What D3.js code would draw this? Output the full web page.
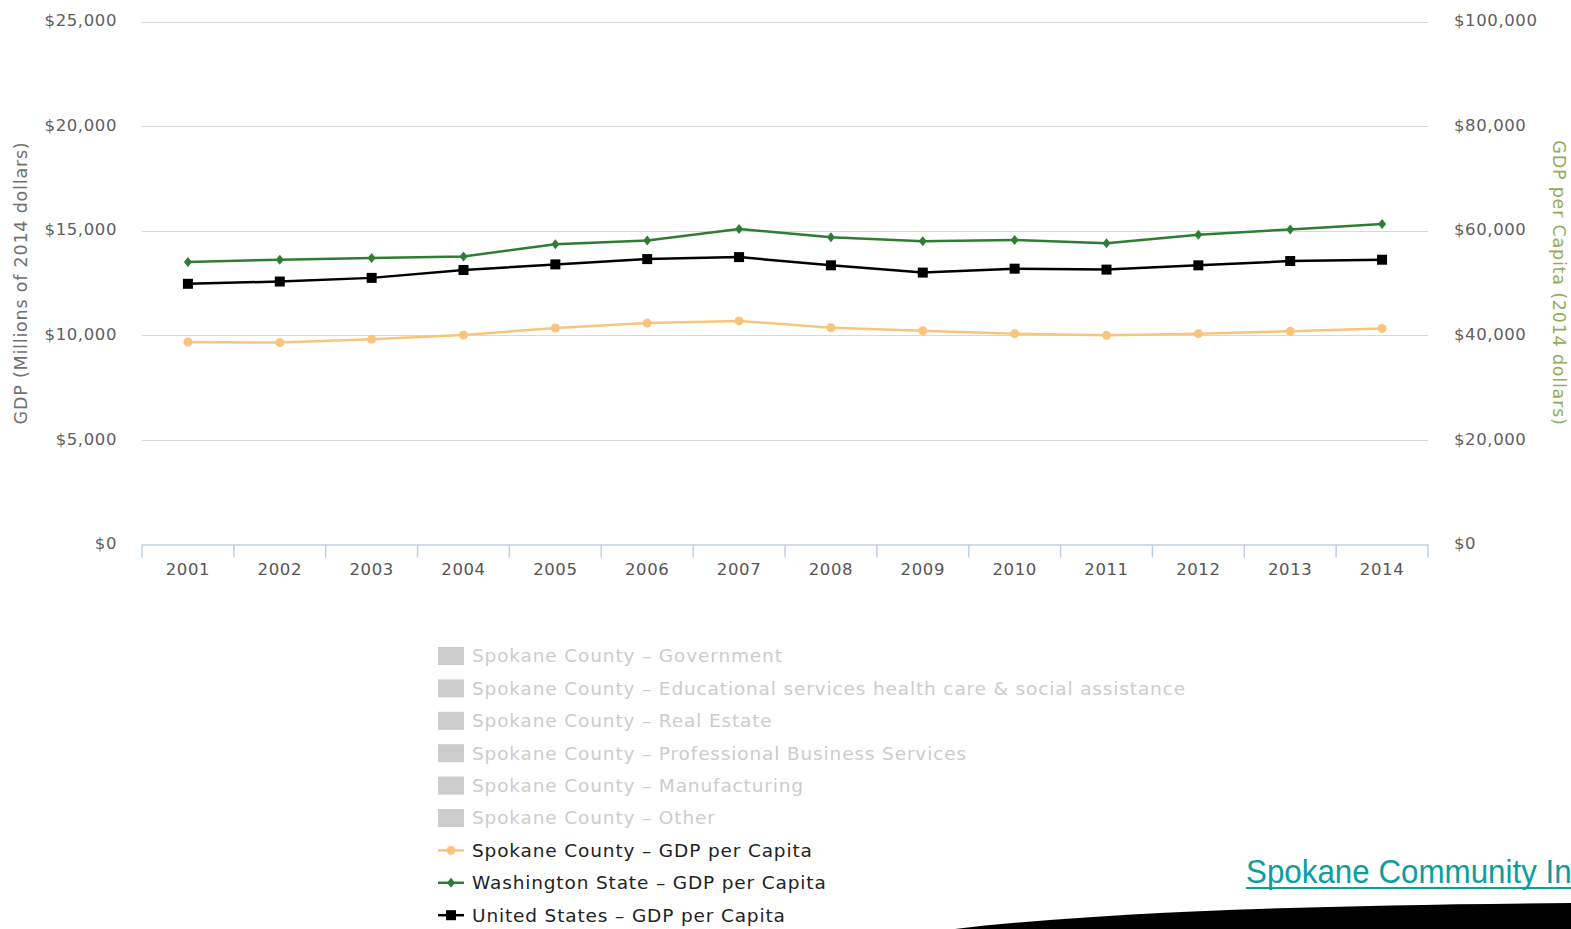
<!DOCTYPE html>
<html><head><meta charset="utf-8">
<script src="https://cdn.jsdelivr.net/npm/d3@7"></script>
<style>
html,body{margin:0;padding:0;background:#fff;overflow:hidden;}
svg{display:block;}
</style></head>
<body>
<svg id="chart" width="1571" height="929"></svg>
<script>
const years = ["2001","2002","2003","2004","2005","2006","2007","2008","2009","2010","2011","2012","2013","2014"];
const spokanePerCapita = [38720,38610,39240,40060,41390,42330,42750,41450,40880,40320,40000,40320,40760,41320];
const washingtonPerCapita = [54010,54450,54760,55080,57410,58110,60320,58740,57980,58230,57600,59240,60250,61260];
const usPerCapita = [49850,50280,50980,52490,53560,54570,54950,53380,51990,52740,52560,53380,54200,54450];
const leftTicks = [0,5000,10000,15000,20000,25000];
const rightTicks = [0,20000,40000,60000,80000,100000];
const hiddenLegend = [
  "Spokane County - Government",
  "Spokane County - Educational services health care & social assistance",
  "Spokane County - Real Estate",
  "Spokane County - Professional Business Services",
  "Spokane County - Manufacturing",
  "Spokane County - Other"
];
const lineSeries = [
  {name:"Spokane County - GDP per Capita", values: spokanePerCapita, color:"#f9c57c", marker:"circle"},
  {name:"Washington State - GDP per Capita", values: washingtonPerCapita, color:"#2f7d32", marker:"diamond"},
  {name:"United States - GDP per Capita", values: usPerCapita, color:"#000000", marker:"square"}
];

const svg = d3.select("#chart");
const FONT = "'DejaVu Sans', Verdana, sans-serif";
const plot = {left:142, right:1428, top:21.5, bottom:544.5};

const x = d3.scaleBand().domain(years).range([plot.left, plot.right]);
const yL = d3.scaleLinear().domain([0,25000]).range([plot.bottom, plot.top]);
const yR = d3.scaleLinear().domain([0,100000]).range([plot.bottom, plot.top]);
const fmt = d => "$" + d3.format(",")(d);

// gridlines
svg.append("g").selectAll("line").data(leftTicks.filter(d=>d>0)).join("line")
  .attr("x1", plot.left).attr("x2", plot.right)
  .attr("y1", d=>Math.round(yL(d))+0.5).attr("y2", d=>Math.round(yL(d))+0.5)
  .attr("stroke","#d8d8d8").attr("stroke-width",1.2);

// left axis
const gL = svg.append("g").attr("transform",`translate(${plot.left-22},0)`)
  .call(d3.axisLeft(yL).tickValues(leftTicks).tickFormat(fmt).tickSize(0));
gL.select(".domain").remove();
gL.selectAll("text").attr("font-family",FONT).attr("font-size",16.5).attr("fill","#606060")
  .attr("dy","0.25em").attr("letter-spacing","0.6px");

// right axis
const gR = svg.append("g").attr("transform",`translate(${plot.right+23},0)`)
  .call(d3.axisRight(yR).tickValues(rightTicks).tickFormat(fmt).tickSize(0));
gR.select(".domain").remove();
gR.selectAll("text").attr("font-family",FONT).attr("font-size",16.5).attr("fill","#606060")
  .attr("dy","0.25em").attr("letter-spacing","0.6px");

// x axis
const gX = svg.append("g").attr("transform",`translate(0,${plot.bottom})`)
  .call(d3.axisBottom(x).tickSize(0).tickPadding(19));
gX.select(".domain").attr("stroke","#c0d0e0").attr("stroke-width",1.5);
gX.selectAll("text").attr("font-family",FONT).attr("font-size",16.5).attr("fill","#555")
  .attr("letter-spacing","0.6px");
const bounds = years.map(y=>x(y)).concat([plot.right]);
gX.append("g").selectAll("line").data(bounds).join("line")
  .attr("x1",d=>d).attr("x2",d=>d).attr("y1",0).attr("y2",13)
  .attr("stroke","#c0d0e0").attr("stroke-width",1.5);

// axis titles
svg.append("text").attr("transform","translate(27,283) rotate(-90)")
  .attr("text-anchor","middle").attr("font-family",FONT).attr("font-size",17.5)
  .attr("letter-spacing","0.8px")
  .attr("fill","#707070").text("GDP (Millions of 2014 dollars)");
svg.append("text").attr("transform","translate(1553,283) rotate(90)")
  .attr("text-anchor","middle").attr("font-family",FONT).attr("font-size",17.5)
  .attr("letter-spacing","0.8px")
  .attr("fill","#8fae5a").text("GDP per Capita (2014 dollars)");

// markers
function drawMarker(g, type, color, cx, cy){
  if(type==="circle") g.append("circle").attr("cx",cx).attr("cy",cy).attr("r",4.5).attr("fill",color);
  else if(type==="diamond") g.append("path").attr("d",`M${cx},${cy-5}L${cx+4},${cy}L${cx},${cy+5}L${cx-4},${cy}Z`).attr("fill",color);
  else g.append("rect").attr("x",cx-5).attr("y",cy-5).attr("width",10).attr("height",10).attr("fill",color);
}

const xc = d => x(d) + x.bandwidth()/2;
lineSeries.forEach(s=>{
  const g = svg.append("g");
  const line = d3.line().x((d,i)=>xc(years[i])).y(d=>yR(d));
  g.append("path").datum(s.values).attr("d",line).attr("fill","none")
    .attr("stroke",s.color).attr("stroke-width",2.5).attr("stroke-linejoin","round");
  s.values.forEach((v,i)=>drawMarker(g, s.marker, s.color, xc(years[i]), yR(v)));
});

// legend
const legX = 438, legY0 = 656, legStep = 32.4;
const legend = svg.append("g");
hiddenLegend.forEach((name,i)=>{
  const cy = legY0 + i*legStep;
  legend.append("rect").attr("x",legX).attr("y",cy-9).attr("width",26).attr("height",18).attr("fill","#cccccc");
  legend.append("text").attr("x",legX+34).attr("y",cy).attr("dy","0.35em")
    .attr("font-family",FONT).attr("font-size",18.5).attr("letter-spacing","0.85px")
    .attr("fill","#cccccc").text(name.replace(" - "," – "));
});
lineSeries.forEach((s,j)=>{
  const cy = legY0 + (hiddenLegend.length+j)*legStep;
  legend.append("line").attr("x1",legX).attr("x2",legX+26).attr("y1",cy).attr("y2",cy)
    .attr("stroke",s.color).attr("stroke-width",2.5);
  drawMarker(legend, s.marker, s.color, legX+13, cy);
  legend.append("text").attr("x",legX+34).attr("y",cy).attr("dy","0.35em")
    .attr("font-family",FONT).attr("font-size",18.5).attr("letter-spacing","0.85px")
    .attr("fill","#222222").text(s.name.replace(" - "," – "));
});

// slide decorations
svg.append("path").attr("d","M955,929 Q1150,906 1571,903 L1571,929 Z").attr("fill","#000");
svg.append("text").attr("transform","translate(1246,883) scale(0.95,1)")
  .attr("font-family","'Liberation Sans', Arial, sans-serif").attr("font-size",33)
  .attr("fill","#0a9e9e").text("Spokane Community Indicators");
svg.append("line").attr("x1",1246).attr("x2",1571).attr("y1",888).attr("y2",888)
  .attr("stroke","#0a9e9e").attr("stroke-width",2);
</script>
</body></html>
